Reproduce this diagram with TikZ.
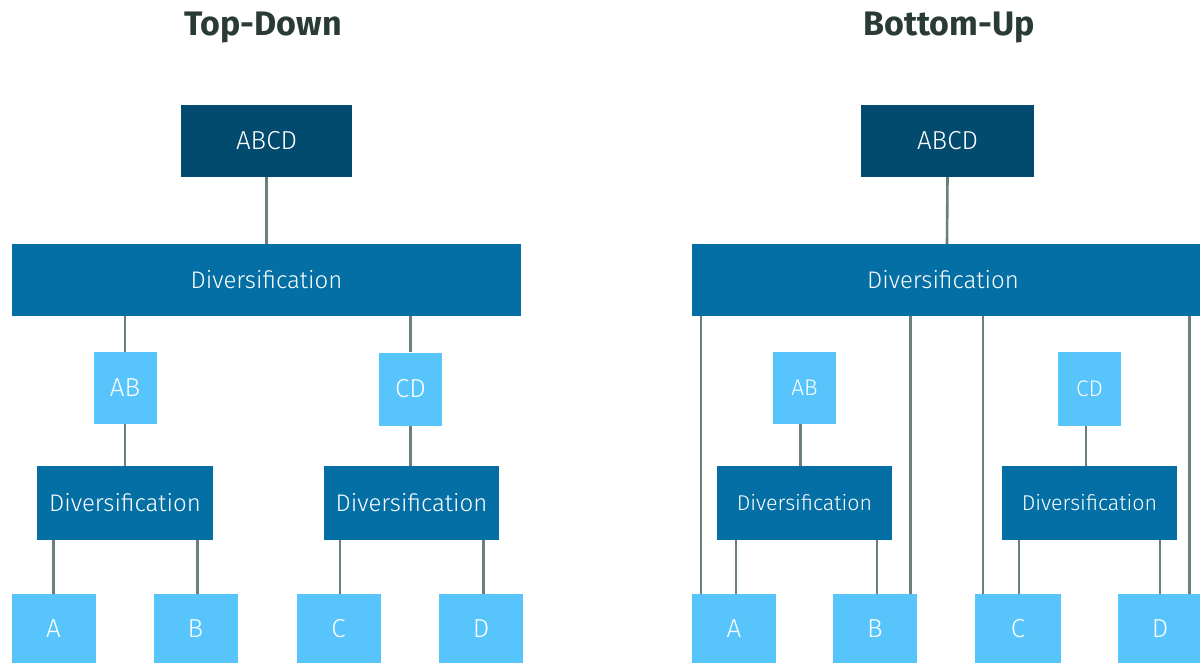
\documentclass[tikz,border=0pt]{standalone}
\usepackage{fontspec}
\setmainfont{Fira Sans}[UprightFont={* Light}, BoldFont={* Bold}]
\definecolor{cdark}{HTML}{034B6E}
\definecolor{cmid}{HTML}{046FA4}
\definecolor{clight}{HTML}{57C5FC}
\definecolor{cline}{HTML}{6A817B}
\definecolor{ctitle}{HTML}{2A3B34}
\tikzset{
  boxbase/.style={rectangle, inner sep=0pt, text=white, font=\fontsize{24}{28}\selectfont},
  caps/.style={font=\fontsize{26}{30}\selectfont},
  smalltext/.style={font=\fontsize{21.4}{25}\selectfont},
  smallcaps/.style={font=\fontsize{22.6}{26}\selectfont},
  darkbox/.style={boxbase, fill=cdark},
  midbox/.style={boxbase, fill=cmid},
  lightbox/.style={boxbase, fill=clight},
  conn/.style={draw=cline, line width=2.6pt},
  titletext/.style={text=ctitle, font=\fontsize{34}{38}\selectfont\bfseries}
}
\begin{document}
\begin{tikzpicture}[x=1pt,y=-1pt]
\useasboundingbox (0,0) rectangle (1200,663);
% titles
\node[titletext] (ttitle) at (263,27) {Top-Down};
\node[titletext] (btitle) at (949,27) {Bottom-Up};
% ---------- Top-Down ----------
\node[darkbox, caps, minimum width=171pt, minimum height=72pt] (tABCD) at (266.5,141) {ABCD};
\node[midbox, minimum width=509pt, minimum height=72pt] (tDiv) at (266.5,280) {Diversification};
\node[lightbox, caps, minimum width=63pt, minimum height=72pt] (tAB) at (125,388) {AB};
\node[lightbox, caps, minimum width=63pt, minimum height=73pt] (tCD) at (410.5,389) {CD};
\node[midbox, minimum width=176pt, minimum height=74pt] (tDivL) at (125,503) {Diversification};
\node[midbox, minimum width=175pt, minimum height=74pt] (tDivR) at (411.5,503) {Diversification};
\node[lightbox, caps, minimum width=84pt, minimum height=69pt] (tA) at (53.5,628.5) {A};
\node[lightbox, caps, minimum width=84pt, minimum height=69pt] (tB) at (195.5,628.5) {B};
\node[lightbox, caps, minimum width=84pt, minimum height=69pt] (tC) at (338.5,628.5) {C};
\node[lightbox, caps, minimum width=84pt, minimum height=69pt] (tD) at (481,628.5) {D};
\draw[conn] (tABCD.south) -- (tDiv.north);
\draw[conn] (tAB.north) -- (tAB.north |- tDiv.south);
\draw[conn] (tCD.north) -- (tCD.north |- tDiv.south);
\draw[conn] (tAB.south) -- (tAB.south |- tDivL.north);
\draw[conn] (tCD.south) -- (tCD.south |- tDivR.north);
\draw[conn] (tA.north) -- (tA.north |- tDivL.south);
\draw[conn] ([xshift=2pt]tB.north) -- ([xshift=2pt]tB.north |- tDivL.south);
\draw[conn] ([xshift=1.5pt]tC.north) -- ([xshift=1.5pt]tC.north |- tDivR.south);
\draw[conn] ([xshift=2.5pt]tD.north) -- ([xshift=2.5pt]tD.north |- tDivR.south);
% ---------- Bottom-Up ----------
\node[darkbox, caps, minimum width=173pt, minimum height=72pt] (bABCD) at (947.5,141) {ABCD};
\node[midbox, minimum width=510pt, minimum height=72pt] (bDiv) at (947,280) {\hspace*{-8pt}Diversification};
\node[lightbox, smallcaps, minimum width=63pt, minimum height=72pt] (bAB) at (804.5,388) {AB};
\node[lightbox, smallcaps, minimum width=63pt, minimum height=74pt] (bCD) at (1089.5,389) {CD};
\node[midbox, smalltext, minimum width=175pt, minimum height=74pt] (bDivL) at (804.5,503) {Diversification};
\node[midbox, smalltext, minimum width=175pt, minimum height=74pt] (bDivR) at (1089.5,503) {Diversification};
\node[lightbox, caps, minimum width=84pt, minimum height=69pt] (bA) at (734,628.5) {A};
\node[lightbox, caps, minimum width=84pt, minimum height=69pt] (bB) at (875,628.5) {B};
\node[lightbox, caps, minimum width=86pt, minimum height=69pt] (bC) at (1018,628.5) {C};
\node[lightbox, caps, minimum width=84pt, minimum height=69pt] (bD) at (1160,628.5) {D};
\draw[conn] (bABCD.south) -- (bDiv.north);
\draw[conn] ([xshift=-4pt]bAB.south) -- ([xshift=-4pt]bAB.south |- bDivL.north);
\draw[conn] ([xshift=-3.5pt]bCD.south) -- ([xshift=-3.5pt]bCD.south |- bDivR.north);
\draw[conn] ([xshift=2pt]bA.north) -- ([xshift=2pt]bA.north |- bDivL.south);
\draw[conn] ([xshift=2pt]bB.north) -- ([xshift=2pt]bB.north |- bDivL.south);
\draw[conn] ([xshift=1pt]bC.north) -- ([xshift=1pt]bC.north |- bDivR.south);
\draw[conn] (bD.north) -- (bD.north |- bDivR.south);
% long bypass connectors
\draw[conn] ([xshift=9pt]bA.north west) -- ([xshift=9pt]bA.north west |- bDiv.south);
\draw[conn] ([xshift=-7pt]bB.north east) -- ([xshift=-7pt]bB.north east |- bDiv.south);
\draw[conn] ([xshift=8pt]bC.north west) -- ([xshift=8pt]bC.north west |- bDiv.south);
\draw[conn] ([xshift=-13pt]bD.north east) -- ([xshift=-13pt]bD.north east |- bDiv.south);
\end{tikzpicture}
\end{document}
